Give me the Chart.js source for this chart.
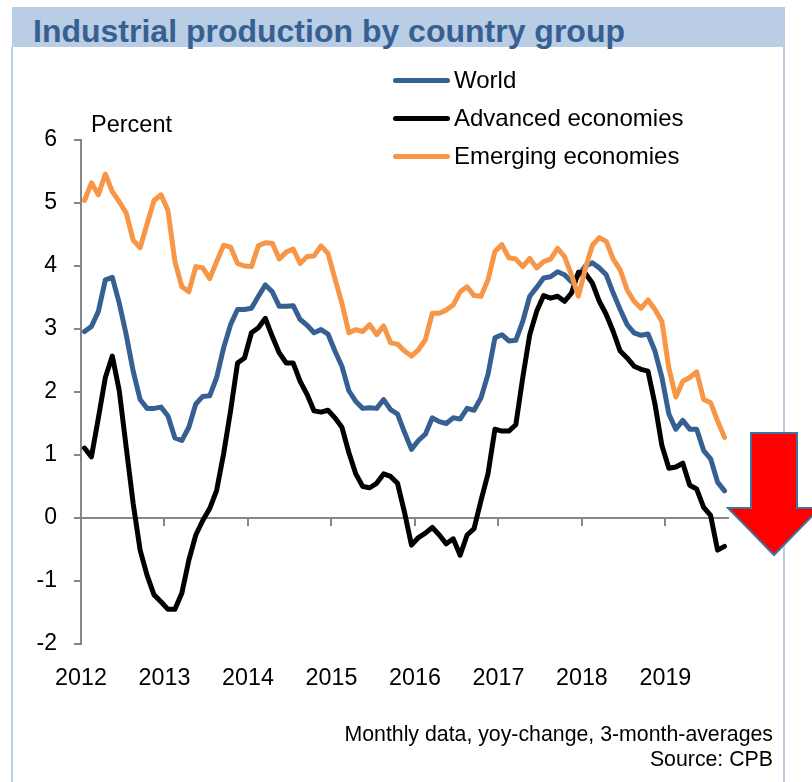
<!DOCTYPE html>
<html>
<head>
<meta charset="utf-8">
<script src="https://cdn.jsdelivr.net/npm/chart.js@4.4.1/dist/chart.umd.min.js"></script>
<style>
  html, body { margin:0; padding:0; background:#fff; }
  body { width:812px; height:782px; position:relative; overflow:hidden; font-family:'Liberation Sans', Arial, sans-serif; }
  #titlebar { position:absolute; left:12px; top:7px; width:773px; height:40px; background:#b9cde5; }
  #titlebar span { position:absolute; left:21px; top:4px; font-weight:bold; font-size:32px; line-height:40px; color:#376092; white-space:nowrap; }
  .frame { position:absolute; background:#b9cde5; width:2px; top:47px; height:735px; }
  #chart { position:absolute; left:0; top:0; }
  .txt { position:absolute; white-space:nowrap; color:#000; }
  .leg-line { position:absolute; height:5px; border-radius:3px; }
</style>
</head>
<body>
<div id="titlebar"><span>Industrial production by country group</span></div>
<div class="frame" style="left:11px"></div>
<div class="frame" style="left:783px"></div>
<canvas id="chart" width="812" height="782"></canvas>
<div class="txt" style="left:91px; top:111px; font-size:23.5px; line-height:27px;">Percent</div>
<div id="legend"></div>
<div class="txt" style="right:39px; top:722px; font-size:21.3px; line-height:25px;">Monthly data, yoy-change, 3-month-averages</div>
<div class="txt" style="right:39px; top:747px; font-size:21.3px; line-height:25px;">Source: CPB</div>
<svg style="position:absolute; left:0; top:0;" width="812" height="782">
  <polygon points="751,433 797,433 797,508 820,508 774,555 728,508 751,508" fill="#ff0000" stroke="#41719c" stroke-width="2" stroke-linejoin="miter"/>
</svg>
<script>
// ---- data (monthly, Jan 2012 - Sep 2019) ----
const years = ['2012','2013','2014','2015','2016','2017','2018','2019'];
const yTicks = [-2, -1, 0, 1, 2, 3, 4, 5, 6];
const seriesNames = ['World', 'Advanced economies', 'Emerging economies'];

const world = [
  2.96, 3.04, 3.28, 3.78, 3.82, 3.41, 2.91, 2.33, 1.88, 1.74, 1.74, 1.76,
  1.62, 1.27, 1.23, 1.44, 1.81, 1.93, 1.94, 2.23, 2.70, 3.07, 3.31, 3.31,
  3.33, 3.52, 3.70, 3.59, 3.36, 3.36, 3.37, 3.15, 3.06, 2.94, 2.99, 2.92,
  2.65, 2.41, 2.02, 1.85, 1.74, 1.75, 1.74, 1.88, 1.72, 1.65, 1.36, 1.09,
  1.23, 1.33, 1.59, 1.53, 1.50, 1.59, 1.57, 1.74, 1.71, 1.91, 2.28, 2.86,
  2.91, 2.81, 2.82, 3.12, 3.52, 3.66, 3.81, 3.83, 3.91, 3.86, 3.75, 3.85,
  4.00, 4.05, 3.97, 3.86, 3.57, 3.31, 3.07, 2.94, 2.90, 2.92, 2.65, 2.23,
  1.65, 1.41, 1.55, 1.41, 1.41, 1.07, 0.94, 0.57, 0.43
];
const advanced = [
  1.11, 0.97, 1.59, 2.23, 2.57, 2.02, 1.12, 0.23, -0.51, -0.91, -1.22, -1.33,
  -1.45, -1.45, -1.19, -0.67, -0.27, -0.04, 0.15, 0.44, 1.02, 1.70, 2.46, 2.54,
  2.94, 3.02, 3.17, 2.88, 2.62, 2.46, 2.46, 2.17, 1.96, 1.70, 1.68, 1.71,
  1.59, 1.44, 1.04, 0.70, 0.50, 0.48, 0.55, 0.70, 0.66, 0.55, 0.09, -0.43,
  -0.31, -0.24, -0.15, -0.27, -0.41, -0.33, -0.59, -0.27, -0.17, 0.28, 0.70, 1.41,
  1.38, 1.38, 1.48, 2.23, 2.91, 3.28, 3.53, 3.49, 3.52, 3.44, 3.57, 3.90,
  3.88, 3.73, 3.44, 3.23, 2.96, 2.65, 2.54, 2.41, 2.36, 2.33, 1.81, 1.15,
  0.79, 0.81, 0.87, 0.52, 0.46, 0.17, 0.04, -0.51, -0.45
];
const emerging = [
  5.04, 5.32, 5.13, 5.46, 5.18, 5.02, 4.84, 4.41, 4.29, 4.67, 5.04, 5.13,
  4.88, 4.07, 3.67, 3.59, 3.99, 3.97, 3.80, 4.07, 4.33, 4.30, 4.04, 4.00,
  3.99, 4.32, 4.37, 4.36, 4.11, 4.22, 4.27, 4.04, 4.15, 4.16, 4.32, 4.20,
  3.80, 3.41, 2.94, 2.99, 2.96, 3.07, 2.91, 3.05, 2.78, 2.76, 2.65, 2.57,
  2.67, 2.83, 3.25, 3.25, 3.30, 3.38, 3.59, 3.67, 3.53, 3.52, 3.78, 4.23,
  4.34, 4.13, 4.11, 3.99, 4.12, 3.97, 4.07, 4.11, 4.28, 4.15, 3.86, 3.52,
  3.96, 4.33, 4.45, 4.39, 4.11, 3.94, 3.62, 3.44, 3.33, 3.46, 3.31, 3.12,
  2.38, 1.92, 2.17, 2.23, 2.32, 1.88, 1.83, 1.54, 1.28
];
const colors = ['#376092', '#000000', '#f79646'];

// month categories derived from the years list
const monthNames = ['Jan','Feb','Mar','Apr','May','Jun','Jul','Aug','Sep','Oct','Nov','Dec'];
const months = years.flatMap(y => monthNames.map(m => m + ' ' + y)).slice(0, world.length);

// x position: month index, plotted mid-month
const toPoints = arr => arr.map((v, i) => ({ x: i + 0.5, y: v, label: months[i] }));

const yearTickValues = years.map((y, k) => k * 12);

const mkDataset = (label, arr, color, order) => ({
  label, data: toPoints(arr), borderColor: color, backgroundColor: color,
  borderWidth: 5, pointRadius: 0, tension: 0, fill: false, order,
  borderJoinStyle: 'round', borderCapStyle: 'round'
});

const axisGray = '#868686';
Chart.defaults.font.family = "'Liberation Sans', Arial, sans-serif";
Chart.defaults.color = '#000';

const chart = new Chart(document.getElementById('chart'), {
  type: 'line',
  data: {
    datasets: [
      mkDataset(seriesNames[0], world, colors[0], 3),
      mkDataset(seriesNames[1], advanced, colors[1], 2),
      mkDataset(seriesNames[2], emerging, colors[2], 1)
    ]
  },
  options: {
    responsive: false,
    animation: false,
    layout: { padding: { left: 0, right: 84, top: 140, bottom: 78 } },
    plugins: { legend: { display: false }, tooltip: { enabled: false } },
    scales: {
      x: {
        type: 'linear', position: 'bottom', min: 0, max: 93,
        afterBuildTicks: s => { s.ticks = yearTickValues.map(v => ({ value: v })); },
        afterFit: s => { s.height = 60; },
        ticks: { callback: v => years[Math.round(v / 12)], padding: 13, maxRotation: 0, autoSkip: false, font: { size: 23.3 }, color: '#000' },
        grid: { display: false },
        border: { display: false }
      },
      x2: {
        type: 'linear', position: { y: 0 }, min: 0, max: 93,
        afterBuildTicks: s => { s.ticks = yearTickValues.map(v => ({ value: v })); },
        ticks: { display: false },
        grid: { display: true, drawOnChartArea: false, drawTicks: true, tickLength: 7, color: axisGray, lineWidth: 2 },
        border: { display: true, color: axisGray, width: 2 }
      },
      y: {
        min: -2, max: 6,
        afterBuildTicks: s => { s.ticks = yTicks.map(v => ({ value: v })); },
        afterFit: s => { s.width = 81; },
        ticks: { padding: 17, font: { size: 23 }, color: '#000' },
        grid: { display: true, drawOnChartArea: false, drawTicks: true, tickLength: 7, color: axisGray, lineWidth: 2 },
        border: { display: true, color: axisGray, width: 2 }
      }
    }
  }
});

// HTML legend built from the chart's datasets
const legendRowsY = [80, 118, 156];
const legendEl = document.getElementById('legend');
chart.data.datasets.forEach((ds, k) => {
  const cy = legendRowsY[k];
  const line = document.createElement('div');
  line.className = 'leg-line';
  line.style.cssText = `left:393px; width:57px; top:${cy - 2.5}px; background:${ds.borderColor};`;
  legendEl.appendChild(line);
  const t = document.createElement('div');
  t.className = 'txt';
  t.style.cssText = `left:454px; top:${cy - 13.8}px; font-size:24px; line-height:28px;`;
  t.textContent = ds.label;
  legendEl.appendChild(t);
});
</script>
</body>
</html>
